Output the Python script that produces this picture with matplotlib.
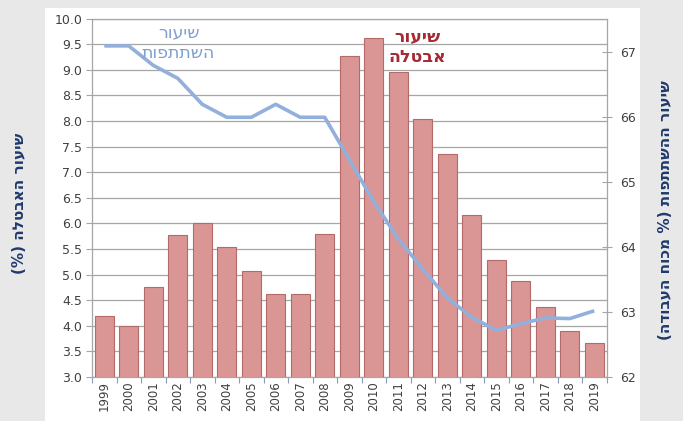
import matplotlib
matplotlib.use("Agg")
import matplotlib.pyplot as plt
import numpy as np
from matplotlib.patches import Rectangle

years = [str(y) for y in range(1999, 2020)]
unemployment = [4.20, 4.00, 4.75, 5.78, 6.00, 5.53, 5.08, 4.62, 4.62, 5.79,
                9.27, 9.62, 8.95, 8.04, 7.36, 6.16, 5.28, 4.87, 4.36, 3.90, 3.67]
participation = [67.1, 67.1, 66.8, 66.6, 66.2, 66.0, 66.0, 66.2, 66.0, 66.0,
                 65.35, 64.7, 64.13, 63.66, 63.22, 62.92, 62.72, 62.82, 62.91, 62.90, 63.02]

left_title = "שיעור האבטלה (%)"
right_title = "שיעור ההשתתפות (% מכוח העבודה)"
label_part = "שיעור\nהשתתפות"
label_unemp = "שיעור\nאבטלה"


def vis(s):
    """Simple visual ordering for RTL text (single-direction lines)."""
    swap = {"(": ")", ")": "("}
    return "\n".join("".join(swap.get(c, c) for c in reversed(line)) for line in s.split("\n"))


plt.rcParams['font.family'] = ['DejaVu Sans']

W, H = 683, 421
fig = plt.figure(figsize=(W / 100, H / 100), dpi=100)
fig.patch.set_facecolor('#e8e8e8')
# white chart panel
fig.patches.append(Rectangle((45 / W, 0), (640 - 45) / W, 1 - 8 / H,
                             transform=fig.transFigure, facecolor='white',
                             edgecolor='none', zorder=-10))

ax = fig.add_axes([92 / W, 1 - 377 / H, (606.5 - 92) / W, (377 - 18.6) / H])
ax.set_facecolor('none')
x = np.arange(len(years))

ax.bar(x, unemployment, width=0.79, color='#d99695', edgecolor='#b46a69',
       linewidth=0.8, zorder=3)
ax.set_ylim(3.0, 10.0)
ax.set_xlim(-0.5, len(years) - 0.5)
ax.set_yticks(np.arange(3.0, 10.01, 0.5))
ax.set_yticklabels([f"{v:.1f}" for v in np.arange(3.0, 10.01, 0.5)])
ax.yaxis.grid(True, color='#a6a6a6', linewidth=0.9, zorder=0)
ax.set_axisbelow(True)
ax.set_xticks(x)
ax.set_xticklabels(years, rotation=90, fontsize=8.5, color='#404040')
ax.set_xticks(np.arange(-0.5, len(years), 1.0), minor=True)
ax.tick_params(axis='x', which='major', length=0, pad=3)
ax.tick_params(axis='x', which='minor', length=4, color='#8a9db5', width=0.8)
ax.tick_params(axis='y', length=4, color='#a6a6a6', labelsize=9,
               labelcolor='#404040', pad=3)
for s in ['left', 'bottom', 'right', 'top']:
    ax.spines[s].set_color('#a6a6a6')
    ax.spines[s].set_linewidth(0.9)

ax2 = ax.twinx()
ax2.plot(x, participation, color='#93afdc', linewidth=2.6, zorder=5,
         solid_joinstyle='round', solid_capstyle='butt')
ax2.set_ylim(62, 67.52)
ax2.set_yticks(range(62, 68))
ax2.tick_params(axis='y', length=7, direction='inout', color='#a6a6a6',
                labelsize=9, labelcolor='#404040', pad=6)
for s in ['left', 'bottom', 'right', 'top']:
    ax2.spines[s].set_visible(False)

# annotations
fig.text(179 / W, 1 - 43 / H, vis(label_part), color='#7f9fcf', fontsize=12.5,
         ha='center', va='center', linespacing=1.2)
fig.text(417 / W, 1 - 47 / H, vis(label_unemp), color='#a52a34', fontsize=12.5,
         fontweight='bold', ha='center', va='center', linespacing=1.2)

# axis titles
fig.text(20 / W, 1 - 203 / H, vis(left_title), rotation=90, color='#1f3a6b',
         fontsize=11, fontweight='bold', ha='center', va='center')
fig.text(665 / W, 1 - 210 / H, vis(right_title), rotation=90, color='#1f3a6b',
         fontsize=11, fontweight='bold', ha='center', va='center')

fig.savefig('out.png', dpi=100, facecolor=fig.get_facecolor())
